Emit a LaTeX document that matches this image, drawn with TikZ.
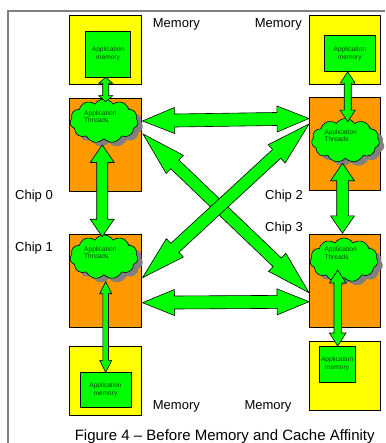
\documentclass[tikz,border=0pt]{standalone}
\usepackage{fontspec}
\setmainfont{Liberation Sans}
\usetikzlibrary{calc,shapes.symbols,shadows}

\definecolor{memyellow}{RGB}{255,255,0}
\definecolor{chiporange}{RGB}{255,153,0}
\definecolor{appgreen}{RGB}{0,255,0}
\definecolor{smalltext}{RGB}{0,70,0}
\definecolor{framegray}{RGB}{128,128,128}
\definecolor{shadowgray}{RGB}{128,128,128}

\tikzset{
  membox/.style={draw=black, line width=0.8pt, fill=memyellow, inner sep=0pt},
  appbox/.style={draw=black, line width=0.8pt, fill=appgreen, inner sep=0pt,
    align=center, text=smalltext, font=\fontsize{6.6}{7.8}\selectfont},
  chipbox/.style={draw=black, line width=0.8pt, fill=chiporange, inner sep=0pt},
  threads/.style={cloud, cloud puffs=11, cloud puff arc=115, cloud ignores aspect,
    draw=black, line width=0.6pt, fill=appgreen, inner sep=0pt,
    minimum width=68pt, minimum height=44pt,
    general shadow={fill=shadowgray, draw=none, shadow xshift=5pt, shadow yshift=-4pt}},
  threadtxt/.style={anchor=west, align=left, inner sep=0pt, text=smalltext,
    font=\fontsize{6.6}{7.6}\selectfont},
  label/.style={inner sep=0pt, font=\fontsize{13}{15}\selectfont},
  fatarrow/.style={draw=black, line width=0.6pt, fill=appgreen, line join=miter},
}

% double-headed block arrow: ends, head length, head half-width, shaft half-width
\newcommand\fatarrow[5]{%
  \draw[fatarrow] (#1)
    -- ($(#1)!#3!(#2)!#4!90:(#2)$)
    -- ($(#1)!#3!(#2)!#5!90:(#2)$)
    -- ($(#2)!#3!(#1)!#5!-90:(#1)$)
    -- ($(#2)!#3!(#1)!#4!-90:(#1)$)
    -- (#2)
    -- ($(#2)!#3!(#1)!#4!90:(#1)$)
    -- ($(#2)!#3!(#1)!#5!90:(#1)$)
    -- ($(#1)!#3!(#2)!#5!-90:(#2)$)
    -- ($(#1)!#3!(#2)!#4!-90:(#2)$)
    -- cycle;}

\begin{document}
\begin{tikzpicture}[x=1pt, y=-1pt]
\useasboundingbox (0,0) rectangle (385,443);

% frame
\draw[framegray, line width=1.2pt] (8,443) -- (8,11) -- (385,11);

% memory blocks
\node[membox, minimum width=72.4pt, minimum height=68.3pt] (mem0) at (105.5,49.85) {};
\node[membox, minimum width=71.7pt, minimum height=68.3pt] (mem2) at (344.85,49.85) {};
\node[membox, minimum width=72.4pt, minimum height=68.3pt] (mem1) at (105.5,380.85) {};
\node[membox, minimum width=71.7pt, minimum height=69pt] (mem3) at (344.85,375.5) {};

\node[appbox, minimum width=45.4pt, minimum height=46.3pt] (app0) at (108,54.15) {Application\\memory};
\node[appbox, minimum width=51pt, minimum height=36pt] (app2) at (349.8,53.7) {Application\\memory};
\node[appbox, minimum width=51pt, minimum height=35.4pt] (app1) at (105.5,390) {Application\\memory};
\node[appbox, minimum width=35.7pt, minimum height=36.3pt] (app3) at (337.15,364.15) {Application\\memory};

% chips
\node[chipbox, minimum width=72.4pt, minimum height=93.4pt] (chip0) at (105.5,145) {};
\node[chipbox, minimum width=71.7pt, minimum height=92.7pt] (chip2) at (344.85,143.65) {};
\node[chipbox, minimum width=72.4pt, minimum height=93.4pt] (chip1) at (105.5,281) {};
\node[chipbox, minimum width=71.7pt, minimum height=93.4pt] (chip3) at (344.85,281) {};

% thread clouds
\node[threads] (cl0) at (104,121) {};
\node[threads] (cl2) at (345.5,140.5) {};
\node[threads] (cl1) at (104,257) {};
\node[threads] (cl3) at (344,260) {};

\node[threadtxt] (tt0) at (84,116.5) {Application\\Threads};
\node[threadtxt] (tt2) at (324.3,135.5) {Application\\Threads};
\node[threadtxt] (tt1) at (84,252.5) {Application\\Threads};
\node[threadtxt] (tt3) at (324.3,253) {Application\\Threads};

% arrow end points
\coordinate (h0l) at (142.5,121);    \coordinate (h0r) at (309,118.5);
\coordinate (h1l) at (142.5,302.7);  \coordinate (h1r) at (309,301.7);
\coordinate (v0t) at (102.2,145);    \coordinate (v0b) at (102.2,236.7);
\coordinate (v2t) at (342.5,163.3);  \coordinate (v2b) at (342.5,233.3);
\coordinate (d03a) at (143,134);     \coordinate (d03b) at (309,292.7);
\coordinate (d12a) at (142.5,277.7); \coordinate (d12b) at (309,124);
\coordinate (m0a) at (105.7,77.3);   \coordinate (m0b) at (105.7,101.7);
\coordinate (m2a) at (347.7,71.7);   \coordinate (m2b) at (347.7,121.7);
\coordinate (m1a) at (105.7,281.7);  \coordinate (m1b) at (105.7,372.3);
\coordinate (m3a) at (337.7,270);    \coordinate (m3b) at (337.7,346);

% links between chips
\fatarrow{h0l}{h0r}{32pt}{13pt}{6.5pt}
\fatarrow{h1l}{h1r}{32pt}{13pt}{6.5pt}
\fatarrow{v0t}{v0b}{17.5pt}{12pt}{5.5pt}
\fatarrow{v2t}{v2b}{17.5pt}{12pt}{5.8pt}
\fatarrow{d03a}{d03b}{44pt}{12.5pt}{6pt}
\fatarrow{d12a}{d12b}{44pt}{12.5pt}{6pt}

% links between chips and their memory
\fatarrow{m0a}{m0b}{6pt}{7pt}{3pt}
\fatarrow{m2a}{m2b}{11.5pt}{7.5pt}{3.5pt}
\fatarrow{m1a}{m1b}{12pt}{6pt}{2.8pt}
\fatarrow{m3a}{m3b}{13pt}{8.3pt}{3.7pt}

% labels
\node[label, anchor=base west] (lm0) at (152.7,27.3) {Memory};
\node[label, anchor=base east] (lm2) at (302,27.3) {Memory};
\node[label, anchor=base west] (lm1) at (152.7,409) {Memory};
\node[label, anchor=base west] (lm3) at (244.3,409.3) {Memory};
\node[label, anchor=base west] (lc0) at (15,200) {Chip 0};
\node[label, anchor=base west] (lc2) at (265,200) {Chip 2};
\node[label, anchor=base west] (lc1) at (15,251.7) {Chip 1};
\node[label, anchor=base west] (lc3) at (265,231.7) {Chip 3};

\node[inner sep=0pt, anchor=base, font=\fontsize{15}{17}\selectfont] (cap) at (224.7,440.7)
  {Figure 4 – Before Memory and Cache Affinity};
\end{tikzpicture}
\end{document}
